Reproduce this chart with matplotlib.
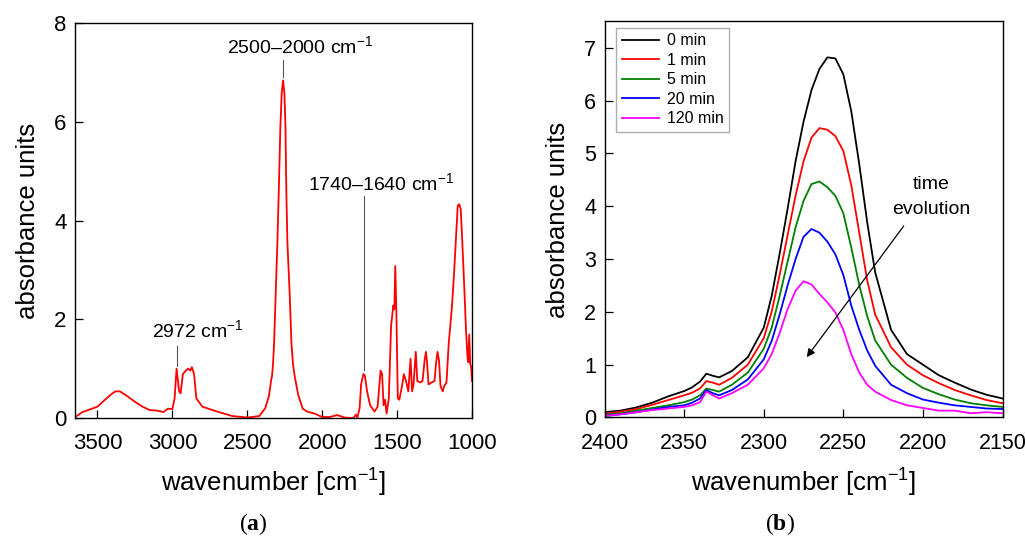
import matplotlib.pyplot as plt
import numpy as np

plt.rcParams['font.family'] = ['Liberation Sans', 'DejaVu Sans']
plt.rcParams['mathtext.fontset'] = 'custom'
plt.rcParams['mathtext.rm'] = 'Liberation Sans'
plt.rcParams['mathtext.bf'] = 'Liberation Serif:bold'

# (a) full spectrum
wn_a = [3650, 3600, 3500, 3450, 3400, 3380, 3350, 3300, 3250, 3200, 3150, 3100,
        3060, 3030, 3000, 2985, 2972, 2955, 2945, 2930, 2910, 2895, 2880, 2870,
        2855, 2840, 2800, 2700, 2600, 2500, 2420, 2380, 2355, 2339, 2335, 2328,
        2321, 2310, 2299, 2290, 2279, 2270, 2261, 2252, 2245, 2239, 2232, 2217,
        2205, 2195, 2183, 2160, 2130,
        2100, 2050, 2000, 1950, 1900, 1850, 1790, 1775, 1765, 1750, 1740, 1725,
        1715, 1700, 1680, 1650, 1630, 1610, 1600, 1590, 1580, 1570, 1555, 1540,
        1525, 1518, 1512, 1505, 1495, 1485, 1465, 1455, 1440, 1425, 1410, 1400,
        1390, 1375, 1365, 1345, 1330, 1315, 1307, 1300, 1290, 1270, 1250, 1240,
        1230, 1220, 1210, 1195, 1185, 1170, 1155, 1135, 1120, 1105, 1095, 1085,
        1075, 1065, 1050, 1040, 1030, 1025, 1018, 1012, 1005, 1000]
abs_a = [0.02, 0.12, 0.23, 0.37, 0.50, 0.54, 0.54, 0.44, 0.33, 0.23, 0.16, 0.15,
         0.12, 0.19, 0.18, 0.40, 1.00, 0.54, 0.50, 0.89, 0.96, 1.00, 0.96, 1.03,
         0.89, 0.40, 0.23, 0.13, 0.04, 0.01, 0.04, 0.20, 0.45, 0.80, 0.84, 1.10,
         1.51, 2.53, 3.55, 4.55, 5.90, 6.58, 6.84, 6.58, 5.90, 4.55, 3.55, 2.53,
         1.51, 1.10, 0.84, 0.47, 0.19,
         0.13, 0.09, 0.02, 0.02, 0.06, 0.01, 0.00, 0.07, 0.01, 0.20, 0.68, 0.89,
         0.86, 0.54, 0.26, 0.13, 0.23, 0.96, 0.89, 0.26, 0.37, 0.09, 0.40, 1.86,
         2.28, 2.20, 3.08, 2.20, 0.40, 0.37, 0.68, 0.89, 0.75, 0.54, 1.20, 0.54,
         0.68, 1.34, 0.75, 0.72, 0.75, 1.20, 1.34, 1.13, 0.68, 0.72, 0.75, 1.10,
         1.34, 1.17, 0.65, 0.54, 0.65, 0.72, 1.52, 2.20, 2.90, 3.74, 4.30, 4.33,
         4.23, 3.60, 2.56, 1.80, 1.24, 1.13, 1.69, 1.10, 1.03, 0.75]

# (b) time series around 2260 cm-1
wn_b = [2400, 2390, 2380, 2370, 2360, 2350, 2345, 2340, 2336, 2332, 2328, 2320,
        2310, 2300, 2295, 2290, 2285, 2280, 2275, 2270, 2265, 2260, 2255, 2250,
        2245, 2240, 2235, 2230, 2220, 2210, 2200, 2190, 2180, 2170, 2160, 2150]
abs_0 = [0.10, 0.13, 0.19, 0.28, 0.40, 0.50, 0.57, 0.68, 0.83, 0.79, 0.76, 0.88,
         1.14, 1.70, 2.30, 3.10, 3.95, 4.85, 5.60, 6.20, 6.60, 6.82, 6.80, 6.50,
         5.80, 4.80, 3.70, 2.75, 1.66, 1.20, 1.00, 0.80, 0.66, 0.53, 0.43, 0.36]
abs_1 = [0.07, 0.11, 0.16, 0.24, 0.33, 0.42, 0.47, 0.55, 0.69, 0.66, 0.62, 0.75,
         1.00, 1.50, 2.00, 2.70, 3.45, 4.20, 4.85, 5.30, 5.48, 5.45, 5.33, 5.05,
         4.40, 3.50, 2.60, 1.95, 1.33, 1.00, 0.80, 0.65, 0.52, 0.42, 0.33, 0.27]
abs_5 = [0.05, 0.08, 0.13, 0.18, 0.23, 0.29, 0.34, 0.42, 0.55, 0.52, 0.49, 0.62,
         0.85, 1.30, 1.70, 2.30, 2.95, 3.60, 4.10, 4.42, 4.47, 4.36, 4.20, 3.87,
         3.22, 2.51, 1.92, 1.46, 1.00, 0.75, 0.56, 0.44, 0.34, 0.27, 0.23, 0.20]
abs_20 = [0.03, 0.06, 0.10, 0.15, 0.20, 0.23, 0.28, 0.36, 0.52, 0.46, 0.42, 0.52,
          0.72, 1.10, 1.45, 1.95, 2.50, 3.00, 3.42, 3.57, 3.50, 3.33, 3.09, 2.70,
          2.12, 1.66, 1.27, 0.98, 0.62, 0.46, 0.34, 0.28, 0.23, 0.20, 0.17, 0.16]
abs_120 = [0.03, 0.06, 0.10, 0.14, 0.17, 0.20, 0.23, 0.29, 0.49, 0.42, 0.36, 0.46,
           0.62, 0.93, 1.20, 1.60, 2.05, 2.40, 2.58, 2.52, 2.34, 2.18, 1.99, 1.66,
           1.20, 0.85, 0.62, 0.49, 0.33, 0.23, 0.18, 0.13, 0.13, 0.08, 0.10, 0.08]
series_b = [abs_0, abs_1, abs_5, abs_20, abs_120]
labels_b = ['0 min', '1 min', '5 min', '20 min', '120 min']
colors_b = ['black', '#ff0000', '#008000', '#0000ff', '#ff00ff']

fig = plt.figure(figsize=(10.26, 5.38), dpi=100)
ax1 = fig.add_axes([0.0731, 0.2230, 0.3869, 0.7342])
ax2 = fig.add_axes([0.5892, 0.2240, 0.3879, 0.7361])

ax1.plot(wn_a, abs_a, color='#ff0000', lw=1.3)
ax1.set_xlim(3650, 1000)
ax1.set_ylim(0, 8)
ax1.set_xticks([3500, 3000, 2500, 2000, 1500, 1000])
ax1.set_yticks([0, 2, 4, 6, 8])

line_c = '#555555'
ax1.plot([2972, 2972], [1.05, 1.45], color=line_c, lw=0.8)
ax1.text(2830, 1.62, r'2972 cm$^{-1}$', ha='center', va='baseline', fontsize=14)
ax1.plot([2259, 2259], [6.9, 7.25], color=line_c, lw=0.8)
ax1.text(2150, 7.38, r'2500–2000 cm$^{-1}$', ha='center', va='baseline', fontsize=14)
ax1.plot([1722, 1722], [0.97, 4.5], color=line_c, lw=0.8)
ax1.text(1605, 4.6, r'1740–1640 cm$^{-1}$', ha='center', va='baseline', fontsize=14)

for ys, lab, col in zip(series_b, labels_b, colors_b):
    ax2.plot(wn_b, ys, color=col, lw=1.3, label=lab)
ax2.set_xlim(2400, 2150)
ax2.set_ylim(0, 7.5)
ax2.set_xticks([2400, 2350, 2300, 2250, 2200, 2150])
ax2.set_yticks(np.arange(0, 8, 1))
ax2.legend(loc='upper left', bbox_to_anchor=(0.030, 0.984), borderaxespad=0,
           fontsize=11.5, frameon=True, fancybox=False, edgecolor='#999999',
           handlelength=2.3, handletextpad=0.5, labelspacing=0.28,
           borderpad=0.35)
ax2.annotate('', xy=(2274, 1.10), xytext=(2211, 3.67),
             arrowprops=dict(arrowstyle='-|>', color='black', lw=0.9,
                             mutation_scale=12))
ax2.text(2195, 4.18, 'time\nevolution', ha='center', va='center',
         fontsize=14, linespacing=1.6)

for ax, fs in ((ax1, 16), (ax2, 15.5)):
    ax.tick_params(direction='in', length=6, width=0.9, labelsize=fs,
                   top=False, right=False)
    ax.tick_params(axis='x', pad=11)
    ax.tick_params(axis='y', pad=6)
    for sp in ax.spines.values():
        sp.set_linewidth(1.0)
    ax.set_xlabel(r'wavenumber [cm$^{-1}$]', fontsize=18.5, labelpad=8)
    ax.set_ylabel('absorbance units', fontsize=18.5, labelpad=10)

fig.text(0.2466, 0.026, r'($\mathbf{a}$)', ha='center', va='center',
         fontsize=17, family='Liberation Serif')
fig.text(0.760, 0.026, r'($\mathbf{b}$)', ha='center', va='center',
         fontsize=17, family='Liberation Serif')

fig.savefig('out.png', dpi=100)
